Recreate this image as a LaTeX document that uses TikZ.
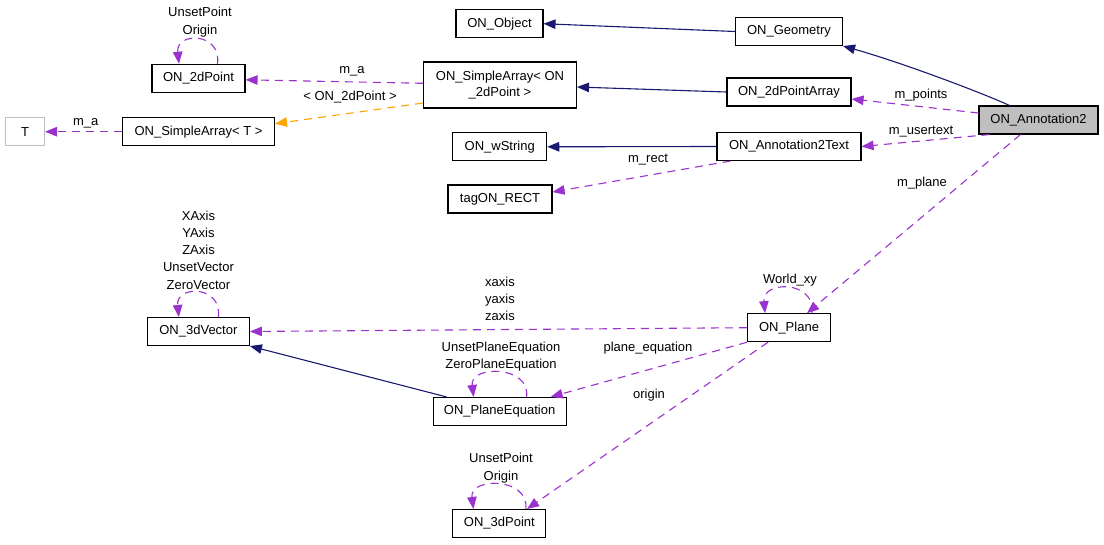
\documentclass[tikz,border=0pt]{standalone}
\usepackage{fontspec}
\setmainfont{Liberation Sans}
\usetikzlibrary{arrows.meta,calc}
\definecolor{navy}{RGB}{25,25,112}
\definecolor{orchid}{RGB}{154,50,205}
\definecolor{orng}{RGB}{255,165,0}
\definecolor{boxgray}{RGB}{191,191,191}
\begin{document}
\begin{tikzpicture}[x=1pt,y=-1pt,
  font=\fontsize{13}{16.5}\selectfont,
  cls/.style={draw=black, line width=1.1pt, minimum height=28pt, inner sep=0pt, align=center},
  tip/.style={-{Triangle[length=12pt,width=9.5pt]}},
  inh/.style={draw=navy, line width=1.1pt, tip},
  use/.style={draw=orchid, line width=1.1pt, dash pattern=on 8pt off 6pt, tip},
  tmpl/.style={draw=orng, line width=1.1pt, dash pattern=on 8pt off 6pt, tip},
  lbl/.style={inner sep=0pt, align=center, font=\fontsize{13}{17.3}\selectfont}]
\useasboundingbox[fill=white] (0,0) rectangle (1104,544);

% classes
\node[cls, minimum width=87pt] (obj) at (499.5,23.7) {ON\_Object};
\node[cls, minimum width=107pt] (geom) at (789,31.5) {ON\_Geometry};
\node[cls, minimum width=93pt] (p2d) at (198.5,78.3) {ON\_2dPoint};
\node[cls, minimum width=153pt, minimum height=46pt] (sa2d) at (500,85) {ON\_SimpleArray< ON\\\_2dPoint >};
\node[cls, minimum width=124pt] (p2da) at (789,92) {ON\_2dPointArray};
\node[cls, minimum width=119pt, fill=boxgray] (ann) at (1038.5,120) {ON\_Annotation2};
\node[cls, draw=boxgray, minimum width=39pt] (T) at (25,131.7) {T};
\node[cls, minimum width=152pt] (saT) at (198.5,131.7) {ON\_SimpleArray< T >};
\node[cls, minimum width=94pt] (ws) at (499.7,146.8) {ON\_wString};
\node[cls, minimum width=144pt] (ann2t) at (789,146.5) {ON\_Annotation2Text};
\node[cls, minimum width=104pt] (rect) at (500,199) {tagON\_RECT};
\node[cls, minimum width=102pt] (v3d) at (198.4,331.5) {ON\_3dVector};
\node[cls, minimum width=83pt] (plane) at (789,327.7) {ON\_Plane};
\node[cls, minimum width=133pt] (peq) at (499.6,411.5) {ON\_PlaneEquation};
\node[cls, minimum width=93pt] (p3d) at (499.4,523.5) {ON\_3dPoint};

% inheritance
\draw[inh] (geom.west) -- (obj.east);
\draw[inh] ($(ann.north)+(-29,0)$) .. controls (980,92) and (900,62) .. (geom.south east);
\draw[inh] (p2da.west) -- ($(sa2d.east)+(0,2)$);
\draw[inh] (ann2t.west) -- (ws.east);
\draw[inh] ($(peq.north west)+(14,0)$) -- (v3d.south east);

% usage
\draw[use] ($(ann.west)+(0,-7)$) -- ($(p2da.east)+(0,7)$);
\node[lbl] (lpoints) at (921,94.7) {m\_points};
\draw[use] ($(ann.south west)+(11,0)$) -- (ann2t.east);
\node[lbl] (lusertext) at (921,131.7) {m\_usertext};
\draw[use] ($(ann.south)+(-18,0)$) -- ($(plane.north)+(18,0)$);
\node[lbl] (lplane) at (922,183.3) {m\_plane};
\draw[use] ($(ann2t.south west)+(14,0)$) -- ($(rect.east)+(0,-7)$);
\node[lbl] (lrect) at (648,160) {m\_rect};
\draw[use] ($(sa2d.west)+(0,-1.7)$) -- ($(p2d.east)+(0,1.5)$);
\node[lbl] (lma1) at (352,71.7) {m\_a};
\draw[tmpl] ($(sa2d.west)+(0,18)$) -- ($(saT.east)+(0,-8)$);
\node[lbl] (ltmpl) at (350,97.3) {< ON\_2dPoint >};
\draw[use] (saT.west) -- (T.east);
\node[lbl] (lma2) at (85.7,123.3) {m\_a};

% self loops
\draw[use] ($(p2d.north)+(19,0)$) .. controls ($(p2d.north)+(23,-32)$) and ($(p2d.north)+(-23,-32)$) .. ($(p2d.north)+(-19.5,0)$);
\node[lbl] (lp2d) at (200,22.2) {UnsetPoint\\Origin};
\draw[use] ($(v3d.north)+(20,0)$) .. controls ($(v3d.north)+(24,-32)$) and ($(v3d.north)+(-23,-32)$) .. ($(v3d.north)+(-19.5,0)$);
\node[lbl] (lv3d) at (198.5,250) {XAxis\\YAxis\\ZAxis\\UnsetVector\\ZeroVector};
\draw[use] ($(peq.north)+(27,0)$) .. controls ($(peq.north)+(31,-32)$) and ($(peq.north)+(-30,-32)$) .. ($(peq.north)+(-26,0)$);
\node[lbl] (lpeq) at (501,356.3) {UnsetPlaneEquation\\ZeroPlaneEquation};
\draw[use] ($(p3d.north)+(26.4,0)$) .. controls ($(p3d.north)+(30,-32)$) and ($(p3d.north)+(-30,-32)$) .. ($(p3d.north)+(-26,0)$);
\node[lbl] (lp3d) at (501,468) {UnsetPoint\\Origin};
\draw[use] ($(plane.north)+(23,0)$) .. controls ($(plane.north)+(27,-33)$) and ($(plane.north)+(-27,-33)$) .. ($(plane.north)+(-24,0)$);
\node[lbl] (lworld) at (790,280) {World\_xy};

% plane edges
\draw[use] (plane.west) -- (v3d.east);
\node[lbl] (laxes) at (500,299) {xaxis\\yaxis\\zaxis};
\draw[use] (plane.south west) -- ($(peq.north east)+(-16,0)$);
\node[lbl] (lpeqe) at (648,347.7) {plane\_equation};
\draw[use] ($(plane.south)+(-21,0)$) -- ($(p3d.north)+(27.6,0)$);
\node[lbl] (lorigin) at (649,395) {origin};
\end{tikzpicture}
\end{document}
